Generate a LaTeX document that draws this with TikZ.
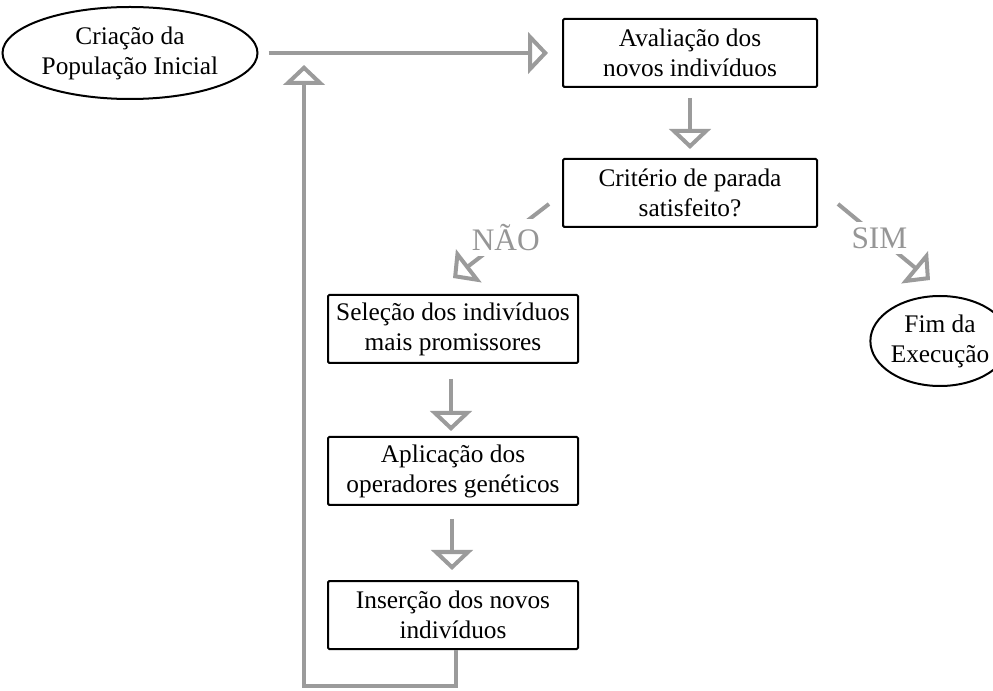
\documentclass[tikz,border=0pt]{standalone}
\usepackage{fontspec}
\setmainfont{Liberation Serif}
\usetikzlibrary{arrows.meta,shapes.geometric,calc}
\definecolor{flowgray}{RGB}{155,155,155}
\definecolor{lblgray}{RGB}{150,150,150}
\begin{document}
\begin{tikzpicture}[x=0.75pt,y=-0.75pt,
  box/.style={draw=black,line width=1.5pt,rounded corners=1pt,minimum height=51pt,inner sep=0pt,align=center,font=\fontsize{19}{22.5}\selectfont},
  oval/.style={ellipse,draw=black,line width=1.5pt,inner sep=0pt,align=center,font=\fontsize{19}{22.5}\selectfont},
  flow/.style={draw=flowgray,line width=3pt,-{Triangle[open,length=15pt,width=31pt,line width=3pt]}},
  lbl/.style={text=lblgray,fill=white,inner xsep=1pt,inner ysep=4pt,font=\fontsize{23.5}{26}\selectfont}]
\clip (0,0) rectangle (993,691);
\node[oval,minimum width=191.25pt,minimum height=69pt] (crea) at (130,53) {Criação da\\População Inicial};
\node[box,minimum width=190.5pt] (aval) at (690,53) {Avaliação dos\\novos indivíduos};
\node[box,minimum width=190.5pt] (crit) at (690,193) {Critério de parada\\satisfeito?};
\node[box,minimum width=187.5pt] (sel) at (453,329) {Seleção dos indivíduos\\mais promissores};
\node[box,minimum width=187.5pt] (apl) at (453,471) {Aplicação dos\\operadores genéticos};
\node[box,minimum width=187.5pt] (ins) at (453,615) {Inserção dos novos\\indivíduos};
\node[oval,minimum width=93pt,minimum height=67.5pt] (fim) at (940,341) {Fim da\\Execução};
\draw[flow] ($(crea.east)+(10,0)$) -- ($(aval.west)+(-14,0)$);
\draw[flow] ($(aval.south)+(0,10)$) -- ($(crit.north)+(0,-9)$);
\draw[flow] ($(sel.south)+(-2,15)$) -- ($(apl.north)+(-2,-5)$);
\draw[flow] ($(apl.south)+(-1,13)$) -- ($(ins.north)+(-1,-10)$);
\draw[flow] ($(ins.south)+(3,0)$) -- ++(0,36) -| ($(crea.east)+(45.5,12)$);
\draw[flow] ($(crit.west)+(-13,11)$) -- node[lbl,pos=0.45]{NÃO} ($(sel.north)+(0,-16)$);
\draw[flow] ($(crit.east)+(20,11)$) -- node[lbl,pos=0.45]{SIM} ($(fim.north)+(-10,-15)$);
\end{tikzpicture}
\end{document}
